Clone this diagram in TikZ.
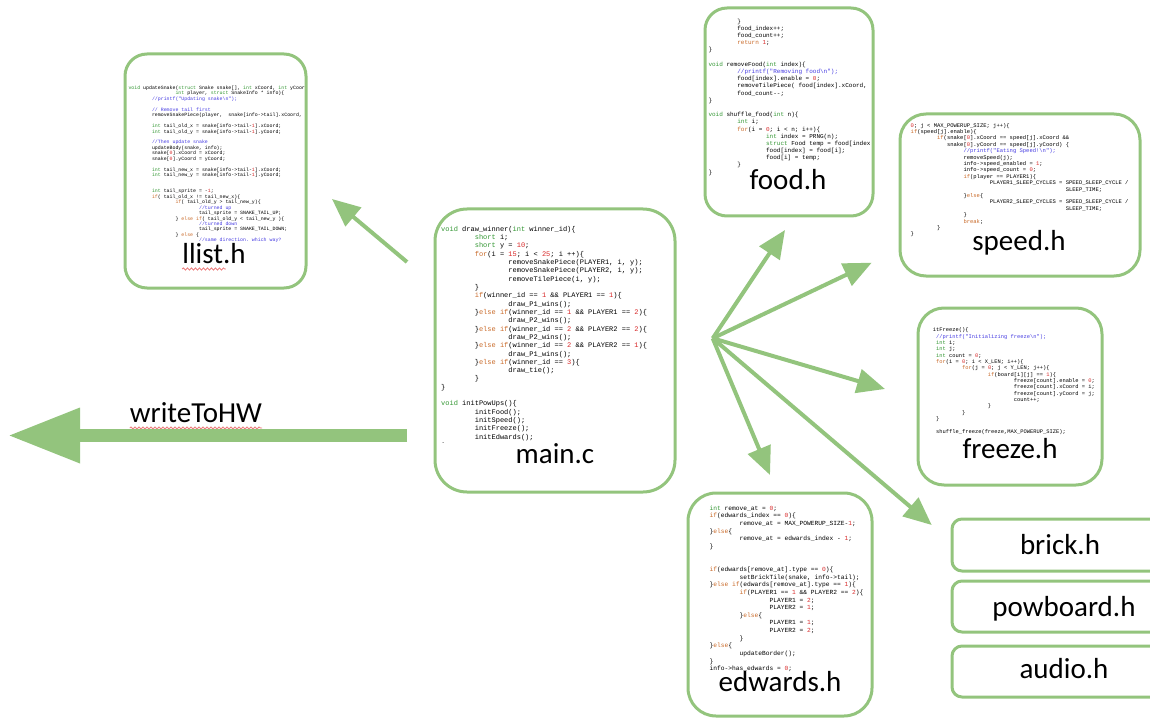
\documentclass[tikz,border=0pt]{standalone}
\usepackage{fontspec}
\setmainfont{Carlito}
\setmonofont{Liberation Mono}
\usetikzlibrary{arrows.meta,decorations.pathmorphing}
\definecolor{grn}{RGB}{147,196,125}
\definecolor{kwc}{RGB}{50,150,50}
\definecolor{ctc}{RGB}{200,105,40}
\definecolor{nmc}{RGB}{215,40,40}
\definecolor{cmc}{RGB}{70,60,225}
\definecolor{sqc}{RGB}{235,120,120}
\newcommand\Kw[1]{\textcolor{kwc}{#1}}
\newcommand\Ct[1]{\textcolor{ctc}{#1}}
\newcommand\Nm[1]{\textcolor{nmc}{#1}}
\newcommand\Cm[1]{\textcolor{cmc}{#1}}
\newcommand\ind[1]{\hspace*{#1\dimexpr0.6em\relax}}
\newcommand\tb{\ind{8}}
\newcommand\st{\rule{0pt}{1em}}
\newcommand\bs{\textbackslash}
\tikzset{
  box/.style={draw=grn, line width=3pt, rounded corners=#1, inner sep=0pt},
  codetext/.style={anchor=north west, inner sep=0pt, align=left, text=black},
  lbl/.style={font=\fontsize{29}{31}\selectfont, anchor=base, inner sep=0pt},
  arr/.style={draw=grn, line width=4pt, -{Triangle[length=28pt,width=24pt]}},
  squiggle/.style={draw=sqc, line width=0.8pt, decorate, decoration={snake, amplitude=1.1pt, segment length=4pt}},
}
\begin{document}
\begin{tikzpicture}[x=1pt,y=-1pt]
\useasboundingbox (0,0) rectangle (1150,719);

% boxes
\node[box=22pt, minimum width=181pt, minimum height=234pt] (llistbox) at (215.5,171) {};
\node[box=32pt, minimum width=240pt, minimum height=283pt] (mainbox) at (555,350.5) {};
\node[box=22pt, minimum width=168pt, minimum height=208pt] (foodbox) at (789,112) {};
\node[box=26pt, minimum width=240pt, minimum height=162pt] (speedbox) at (1020,195) {};
\node[box=26pt, minimum width=184pt, minimum height=177pt] (freezebox) at (1010,396.5) {};
\node[box=28pt, minimum width=184pt, minimum height=223pt] (edwardsbox) at (780,604.5) {};
\node[box=10pt, minimum width=218pt, minimum height=52pt] (brickbox) at (1061,545) {};
\node[box=10pt, minimum width=218pt, minimum height=51pt] (powbox) at (1061,606.5) {};
\node[box=10pt, minimum width=218pt, minimum height=51pt] (audiobox) at (1061,671.5) {};

% main.c code
\node[codetext, font=\ttfamily\fontsize{7}{8.32}\selectfont] (maincode) at (441,224) {%
\st\Kw{void} draw\_winner(\Kw{int} winner\_id)\{\\
\tb\Kw{short} i;\\
\tb\Kw{short} y = \Nm{10};\\
\tb\Ct{for}(i = \Nm{15}; i < \Nm{25}; i ++)\{\\
\tb\tb removeSnakePiece(PLAYER1, i, y);\\
\tb\tb removeSnakePiece(PLAYER2, i, y);\\
\tb\tb removeTilePiece(i, y);\\
\tb\}\\
\tb\Ct{if}(winner\_id == \Nm{1} \&\& PLAYER1 == \Nm{1})\{\\
\tb\tb draw\_P1\_wins();\\
\tb\}\Ct{else if}(winner\_id == \Nm{1} \&\& PLAYER1 == \Nm{2})\{\\
\tb\tb draw\_P2\_wins();\\
\tb\}\Ct{else if}(winner\_id == \Nm{2} \&\& PLAYER2 == \Nm{2})\{\\
\tb\tb draw\_P2\_wins();\\
\tb\}\Ct{else if}(winner\_id == \Nm{2} \&\& PLAYER2 == \Nm{1})\{\\
\tb\tb draw\_P1\_wins();\\
\tb\}\Ct{else if}(winner\_id == \Nm{3})\{\\
\tb\tb draw\_tie();\\
\tb\}\\
\}\\
\mbox{}\\
\Kw{void} initPowUps()\{\\
\tb initFood();\\
\tb initSpeed();\\
\tb initFreeze();\\
\tb initEdwards();\\
`};

% llist.h code
\node[codetext, font=\ttfamily\fontsize{4.9}{5.44}\selectfont] (llistcode) at (128.3,84.4) {%
\st\Kw{void} updateSnake(\Kw{struct} Snake snake[], \Kw{int} xCoord, \Kw{int} yCoor\\
\tb\tb\Kw{int} player, \Kw{struct} SnakeInfo * info)\{\\
\tb\Cm{//printf("Updating snake\bs n");}\\
\mbox{}\\
\tb\Cm{// Remove tail first}\\
\tb removeSnakePiece(player,~ snake[info->tail].xCoord,\\
\mbox{}\\
\tb\Kw{int} tail\_old\_x = snake[info->tail-\Nm{1}].xCoord;\\
\tb\Kw{int} tail\_old\_y = snake[info->tail-\Nm{1}].yCoord;\\
\mbox{}\\
\tb\Cm{//Then update snake}\\
\tb updateBody(snake, info);\\
\tb snake[\Nm{0}].xCoord = xCoord;\\
\tb snake[\Nm{0}].yCoord = yCoord;\\
\mbox{}\\
\tb\Kw{int} tail\_new\_x = snake[info->tail-\Nm{1}].xCoord;\\
\tb\Kw{int} tail\_new\_y = snake[info->tail-\Nm{1}].yCoord;\\
\mbox{}\\
\mbox{}\\
\tb\Kw{int} tail\_sprite = -\Nm{1};\\
\tb\Ct{if}( tail\_old\_x != tail\_new\_x)\{\\
\tb\tb\Ct{if}( tail\_old\_y > tail\_new\_y)\{\\
\tb\tb\tb\Cm{//turned up}\\
\tb\tb\tb tail\_sprite = SNAKE\_TAIL\_UP;\\
\tb\tb\} \Ct{else if}( tail\_old\_y < tail\_new\_y )\{\\
\tb\tb\tb\Cm{//turned down}\\
\tb\tb\tb tail\_sprite = SNAKE\_TAIL\_DOWN;\\
\tb\tb\} \Ct{else} \{\\
\tb\tb\tb\Cm{//same direction. which way?}};

% food.h code
\node[codetext, font=\ttfamily\fontsize{6}{7.19}\selectfont] (foodcode) at (708.3,17) {%
\st\tb\}\\
\tb food\_index++;\\
\tb food\_count++;\\
\tb\Ct{return} \Nm{1};\\
\}\\
\mbox{}\\
\Kw{void} removeFood(\Kw{int} index)\{\\
\tb\Cm{//printf("Removing food\bs n");}\\
\tb food[index].enable = \Nm{0};\\
\tb removeTilePiece( food[index].xCoord,\\
\tb food\_count--;\\
\}\\
\mbox{}\\
\Kw{void} shuffle\_food(\Kw{int} n)\{\\
\tb\Kw{int} i;\\
\tb\Ct{for}(i = \Nm{0}; i < n; i++)\{\\
\tb\tb\Kw{int} index = PRNG(n);\\
\tb\tb\Kw{struct} Food temp = food[index\\
\tb\tb food[index] = food[i];\\
\tb\tb food[i] = temp;\\
\tb\}\\
\}};

% speed.h code
\node[codetext, font=\ttfamily\fontsize{5.5}{6.4}\selectfont] (speedcode) at (910.5,121.5) {%
\st\Nm{0}; j < MAX\_POWERUP\_SIZE; j++)\{\\
\Ct{if}(speed[j].enable)\{\\
\tb\Ct{if}(snake[\Nm{0}].xCoord == speed[j].xCoord \&\&\\
\tb\ind{3}snake[\Nm{0}].yCoord == speed[j].yCoord) \{\\
\tb\tb\Cm{//printf("Eating Speed!\bs n");}\\
\tb\tb removeSpeed(j);\\
\tb\tb info->speed\_enabled = \Nm{1};\\
\tb\tb info->speed\_count = \Nm{0};\\
\tb\tb\Ct{if}(player == PLAYER1)\{\\
\tb\tb\tb PLAYER1\_SLEEP\_CYCLES = SPEED\_SLEEP\_CYCLE /\\
\ind{47}SLEEP\_TIME;\\
\tb\tb\}\Ct{else}\{\\
\tb\tb\tb PLAYER2\_SLEEP\_CYCLES = SPEED\_SLEEP\_CYCLE /\\
\ind{47}SLEEP\_TIME;\\
\tb\tb\}\\
\tb\tb\Ct{break};\\
\tb\}\\
\}};

% freeze.h code
\node[codetext, font=\ttfamily\fontsize{5.4}{6.33}\selectfont] (freezecode) at (932.7,326.3) {%
\st itFreeze()\{\\
\ind{1}\Cm{//printf("Initializing freeze\bs n");}\\
\ind{1}\Kw{int} i;\\
\ind{1}\Kw{int} j;\\
\ind{1}\Kw{int} count = \Nm{0};\\
\ind{1}\Ct{for}(i = \Nm{0}; i < X\_LEN; i++)\{\\
\ind{9}\Ct{for}(j = \Nm{0}; j < Y\_LEN; j++)\{\\
\ind{17}\Ct{if}(board[i][j] == \Nm{1})\{\\
\ind{25}freeze[count].enable = \Nm{0};\\
\ind{25}freeze[count].xCoord = i;\\
\ind{25}freeze[count].yCoord = j;\\
\ind{25}count++;\\
\ind{17}\}\\
\ind{9}\}\\
\ind{1}\}\\
\mbox{}\\
\ind{1}shuffle\_freeze(freeze,MAX\_POWERUP\_SIZE);};

% edwards.h code
\node[codetext, font=\ttfamily\fontsize{6.25}{7.65}\selectfont] (edwardscode) at (709.3,503.75) {%
\st\Kw{int} remove\_at = \Nm{0};\\
\Ct{if}(edwards\_index == \Nm{0})\{\\
\tb remove\_at = MAX\_POWERUP\_SIZE-\Nm{1};\\
\}\Ct{else}\{\\
\tb remove\_at = edwards\_index - \Nm{1};\\
\}\\
\mbox{}\\
\mbox{}\\
\Ct{if}(edwards[remove\_at].type == \Nm{0})\{\\
\tb setBrickTile(snake, info->tail);\\
\}\Ct{else if}(edwards[remove\_at].type == \Nm{1})\{\\
\tb\Ct{if}(PLAYER1 == \Nm{1} \&\& PLAYER2 == \Nm{2})\{\\
\tb\tb PLAYER1 = \Nm{2};\\
\tb\tb PLAYER2 = \Nm{1};\\
\tb\}\Ct{else}\{\\
\tb\tb PLAYER1 = \Nm{1};\\
\tb\tb PLAYER2 = \Nm{2};\\
\tb\}\\
\}\Ct{else}\{\\
\tb updateBorder();\\
\}\\
info->has\_edwards = \Nm{0};};

% labels
\node[lbl] (llistlbl) at (214,263) {llist.h};
\node[lbl] (mainlbl) at (555,463) {main.c};
\node[lbl] (foodlbl) at (788,190) {food.h};
\node[lbl] (speedlbl) at (1019,251) {speed.h};
\node[lbl] (freezelbl) at (1010,458) {freeze.h};
\node[lbl] (edwardslbl) at (780,691) {edwards.h};
\node[lbl] (bricklbl) at (1060,554) {brick.h};
\node[lbl] (powlbl) at (1064,616) {powboard.h};
\node[lbl] (audiolbl) at (1064,678) {audio.h};
\node[lbl] (hwlbl) at (196,422) {writeToHW};

% spell-check squiggles
\draw[squiggle] ([yshift=-6pt]llistlbl.base west) -- ([yshift=-6pt,xshift=-20pt]llistlbl.base east);
\draw[squiggle] ([yshift=-6pt]hwlbl.base west) -- ([yshift=-6pt]hwlbl.base east);

% connectors
\coordinate (llstart) at (407,262);
\coordinate (lltip) at (332,199);
\draw[arr] (llstart) -- (lltip);

\coordinate (hwstart) at (407,435.5);
\coordinate (hwtip) at (8,435.5);
\draw[draw=grn, line width=13pt, -{Triangle[length=72pt,width=52pt]}] (hwstart) -- (hwtip);

\coordinate (hub) at (712.7,338.3);
\coordinate (tfood) at (785,230);
\coordinate (tspeed) at (871.7,262.7);
\coordinate (tfreeze) at (885,389);
\coordinate (tedwards) at (770,475);
\coordinate (tbrick) at (931.7,525);
\draw[arr] (hub) -- (tfood);
\draw[arr] (hub) -- (tspeed);
\draw[arr] (hub) -- (tfreeze);
\draw[arr] (hub) -- (tedwards);
\draw[arr] (hub) -- (tbrick);
\end{tikzpicture}
\end{document}
